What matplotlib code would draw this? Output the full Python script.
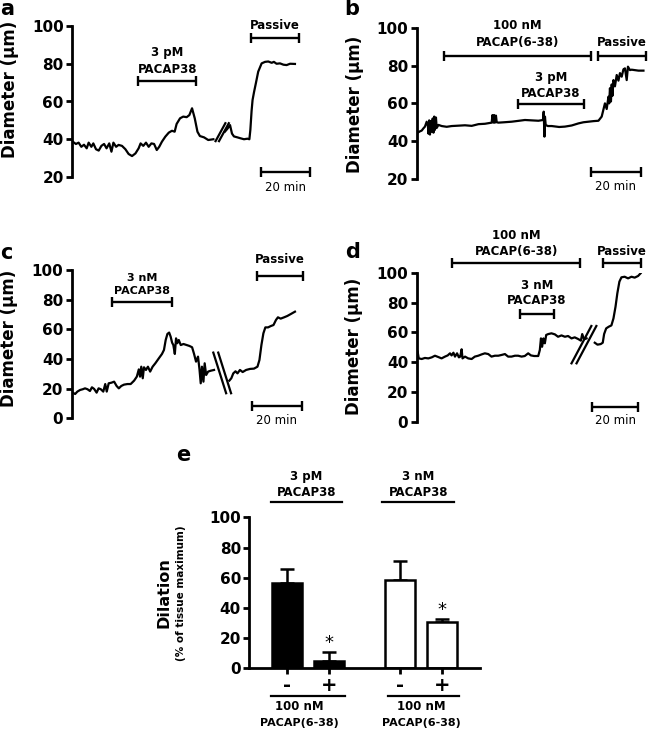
import numpy as np
import matplotlib
matplotlib.use("Agg")
from matplotlib import pyplot as plt

plt.rcParams['font.family'] = ['DejaVu Sans']
plt.rcParams['font.weight'] = 'bold'

# ---------------------------------------------------------------- data
# panel a: diameter (um) vs time (min), trace
a_t1 = [0.3, 1.6, 2.7, 3.8, 4.9, 6.0, 6.8, 7.9, 8.7, 9.8, 10.9, 12.0, 13.1, 14.1, 15.2, 16.1,
        16.9, 18.0, 19.0, 20.4, 21.8, 23.1, 24.5, 25.9, 27.2, 28.0, 29.1, 30.2, 31.3, 32.4,
        33.5, 34.6, 35.6, 36.7, 38.1, 39.5, 40.8, 41.9, 42.7, 44.1, 45.4, 46.8, 47.9, 49.0,
        50.1, 51.2, 52.2, 53.9, 55.6, 57.7]
a_v1 = [38.7, 37.5, 38.2, 36.0, 37.1, 35.2, 38.2, 36.0, 37.8, 34.7, 34.0, 36.5, 37.5, 35.2,
        37.8, 33.4, 38.2, 36.0, 37.0, 36.5, 34.7, 32.2, 31.1, 32.5, 35.2, 37.8, 36.5, 38.2,
        36.0, 37.8, 37.5, 34.3, 36.0, 38.7, 41.4, 43.5, 44.5, 44.0, 48.1, 51.1, 52.0, 51.7,
        52.8, 56.4, 51.1, 44.0, 41.7, 41.0, 39.6, 40.0]
a_t2 = [62.4, 63.4, 64.5, 65.3, 66.1, 67.5, 68.8, 70.2, 71.6, 72.4, 72.8, 73.3, 73.7, 74.3,
        75.1, 76.0, 77.4, 78.8, 80.1, 81.5, 82.4, 83.5, 84.9, 86.3, 87.6, 89.0, 91.0]
a_v2 = [44.0, 45.5, 47.5, 43.0, 41.5, 41.0, 40.5, 40.0, 40.3, 40.0, 45.0, 55.0, 60.8, 65.0,
        70.0, 75.8, 80.2, 81.0, 81.2, 80.5, 81.0, 80.0, 80.2, 79.5, 79.3, 80.0, 79.9]

# panel b
b_t = [0.4, 1.3, 2.0, 2.7, 3.3, 4.0, 4.5, 4.7, 5.0, 5.3, 5.7, 6.0, 6.4, 6.7, 7.0, 7.3, 7.7,
       8.0, 8.7, 10.0, 12.0, 14.0, 16.7, 19.3, 22.0, 24.7, 27.3, 30.0, 30.3, 30.7, 31.0,
       31.3, 31.7, 32.0, 32.7, 35.0, 38.0, 41.0, 43.3, 46.0, 48.7, 50.5, 50.8, 51.1, 51.3,
       51.6, 52.5, 54.0, 57.0, 59.3, 62.0, 64.7, 66.7, 68.7, 70.7, 72.7, 74.0, 75.3, 76.0,
       76.7, 77.0, 77.3, 77.7, 78.0, 78.3, 78.7, 79.3, 80.0, 80.7, 81.3, 82.0, 82.7, 83.3,
       84.0, 84.5, 85.3, 86.0, 88.7, 90.7]
b_v = [44.5, 45.2, 45.6, 46.8, 47.7, 50.3, 48.0, 44.0, 51.0, 43.5, 50.5, 45.0, 52.0, 44.5,
       53.0, 46.0, 52.5, 47.0, 48.6, 48.0, 47.6, 48.0, 48.2, 48.4, 48.1, 49.0, 49.2, 49.8,
       53.8, 49.8, 53.8, 49.8, 53.5, 50.0, 49.8, 50.0, 50.3, 50.8, 51.2, 51.0, 50.8, 51.2,
       55.6, 42.4, 53.0, 48.5, 48.0, 48.0, 47.5, 47.7, 48.3, 49.4, 50.0, 50.3, 50.6, 50.8,
       53.0, 60.0, 57.0, 63.5, 60.0, 68.0, 61.0, 70.0, 64.0, 72.3, 69.0, 75.0, 72.0, 76.0,
       74.1, 78.0, 78.5, 72.3, 79.4, 77.6, 77.8, 77.3, 77.3]

# panel c
c_t1 = [0.4, 1.4, 2.3, 3.4, 4.5, 5.4, 6.4, 7.4, 8.2, 9.1, 10.1, 10.9, 11.8, 12.8, 13.6, 14.2,
        15.0, 16.1, 17.2, 18.2, 19.1, 20.1, 21.2, 22.6, 23.9, 25.3, 26.4, 27.2, 27.7, 28.2,
        28.8, 29.3, 30.1, 30.9, 31.8, 32.8, 33.9, 35.3, 36.6, 37.4, 38.1, 38.8, 39.5, 40.1,
        40.7, 41.2, 41.8, 42.3, 42.8, 43.4, 44.2, 45.3, 46.6, 47.7, 48.8, 49.6, 50.4, 51.2,
        51.8, 52.3, 52.8, 53.4, 53.9, 54.5, 55.3, 56.4, 57.7]
c_v1 = [17.3, 16.4, 18.0, 19.1, 19.6, 20.2, 19.6, 18.4, 20.9, 19.8, 17.3, 20.2, 19.6, 18.0,
        23.1, 18.0, 23.6, 24.0, 24.7, 21.8, 20.2, 21.8, 22.7, 23.1, 23.1, 25.4, 28.1, 33.0,
        28.1, 34.8, 27.0, 34.4, 32.6, 34.8, 31.5, 34.8, 37.1, 40.4, 43.4, 46.1, 52.8, 56.9,
        57.8, 55.1, 51.0, 49.4, 43.4, 53.9, 50.6, 52.8, 49.4, 50.1, 49.4, 48.8, 47.9, 43.4,
        38.2, 41.6, 33.0, 23.6, 34.8, 24.7, 37.1, 29.2, 31.5, 32.1, 32.6]
c_t2 = [63.9, 64.7, 65.5, 66.4, 67.2, 68.2, 69.3, 70.7, 72.3, 73.9, 75.3, 76.1, 76.9, 77.7,
        78.5, 79.6, 80.7, 81.8, 82.8, 83.6, 84.7, 86.1, 87.4, 88.8, 90.5]
c_v2 = [25.4, 27.0, 30.3, 31.7, 30.3, 32.6, 31.2, 32.6, 33.3, 33.5, 34.8, 39.3, 49.4, 57.3,
        61.3, 61.3, 62.2, 62.9, 66.3, 68.1, 67.2, 68.1, 69.0, 70.3, 71.9]

# panel d
d_t1 = [0.4, 0.9, 2.2, 3.6, 5.1, 6.6, 8.0, 9.5, 10.9, 12.4, 13.6, 14.6, 15.3, 16.1, 16.8,
        17.7, 18.5, 19.1, 19.7, 20.1, 21.2, 22.6, 24.1, 25.5, 27.0, 28.5, 29.9, 31.4, 32.8,
        34.3, 35.8, 37.2, 38.7, 40.1, 41.6, 43.1, 44.5, 46.0, 47.4, 48.9, 50.1, 51.5, 53.3,
        54.0, 54.5, 55.0, 55.6, 56.2, 56.8, 57.7, 59.1, 60.6, 62.0, 63.5, 65.0, 66.4, 67.9,
        69.3, 70.8, 72.0, 72.6, 73.4, 74.5]
d_v1 = [47.1, 42.6, 42.2, 42.9, 42.6, 43.3, 44.4, 43.5, 42.6, 43.8, 44.6, 46.0, 44.6, 46.4,
        43.8, 46.0, 43.3, 43.8, 48.7, 42.6, 43.8, 42.6, 42.2, 43.8, 44.4, 45.3, 46.0, 45.5,
        43.8, 44.4, 44.4, 44.9, 45.5, 43.8, 43.8, 44.4, 44.4, 43.8, 44.2, 46.0, 44.6, 44.2,
        44.2, 48.2, 56.0, 50.4, 56.0, 52.7, 58.3, 58.9, 59.4, 58.7, 57.1, 58.0, 57.1, 57.6,
        56.0, 56.7, 55.6, 54.5, 58.9, 55.4, 56.0]
d_t2 = [78.1, 79.3, 80.7, 81.6, 82.2, 83.1, 84.2, 85.4, 86.3, 87.2, 88.0, 88.9, 89.8, 91.2,
        92.7, 94.2, 95.6, 97.1, 98.2]
d_v2 = [53.1, 51.8, 52.2, 53.1, 58.9, 62.7, 63.8, 64.7, 69.4, 77.2, 86.2, 94.0, 96.9, 97.3,
        96.2, 97.3, 96.7, 97.8, 99.6]

# panel e: dilation (% of tissue maximum)
e_mean = [56.3, 4.8, 58.5, 30.7]
e_sem = [9.3, 6.0, 12.8, 2.2]
e_sign = ["-", "+", "-", "+"]
e_star = [False, True, False, True]

yt_ab = [20, 40, 60, 80, 100]
yt_cd = [0, 20, 40, 60, 80, 100]
yt_e = [0, 20, 40, 60, 80, 100]

# ---------------------------------------------------------------- layout helpers
W, H = 650, 731
fig = plt.figure(figsize=(W/100, H/100), dpi=100)


def box(x0, y_top, width, y_bot):
    # pixel box -> figure fraction
    return [x0/W, 1 - y_bot/H, width/W, (y_bot - y_top)/H]


def trace_axes(rect, xmax, ylim, yt):
    ax = fig.add_axes(rect)
    ax.set_xlim(0, xmax)
    ax.set_ylim(*ylim)
    for s in ["top", "right", "bottom"]:
        ax.spines[s].set_visible(False)
    ax.spines["left"].set_linewidth(2.0)
    ax.set_xticks([])
    ax.set_yticks(yt)
    ax.tick_params(axis="y", length=4, width=2.0, pad=2, labelsize=11)
    for lab in ax.get_yticklabels():
        lab.set_fontweight("bold")
    ax.patch.set_alpha(0)
    return ax


def hbar(ax, x0, x1, y, ms=7):
    ax.plot([x0, x1], [y, y], color="k", lw=1.7, marker="|", ms=ms, mew=1.7,
            clip_on=False, solid_capstyle="butt")


def txt(ax, x, y, s, size=8.5, weight="bold"):
    ax.text(x, y, s, ha="center", va="center", fontsize=size, fontweight=weight,
            clip_on=False)


def slash(ax, xs, ys, dx):
    for k in (0, dx):
        ax.plot([xs[0] + k, xs[1] + k], ys, color="k", lw=1.6, clip_on=False)


trace_kw = dict(color="k", lw=1.6, solid_joinstyle="round")

# ---------------------------------------------------------------- panel a
ax = trace_axes(box(72, 26, 240, 177), 240/2.45, (20, 100), yt_ab)
ax.plot(a_t1, a_v1, **trace_kw)
ax.plot(a_t2, a_v2, **trace_kw)
slash(ax, [58.6, 62.6], [39.0, 48.5], 1.4)
hbar(ax, 27.1, 50.6, 71)
txt(ax, 38.9, 85.7, "3 pM")
txt(ax, 38.9, 76.7, "PACAP38")
hbar(ax, 72.9, 92.8, 93.7)
txt(ax, 82.8, 100.5, "Passive")
hbar(ax, 77.1, 97.1, 22.8)
txt(ax, 87.1, 14.2, "20 min", weight="normal")

# ---------------------------------------------------------------- panel b
ax = trace_axes(box(416.7, 27.7, 230, 179), 230/2.5, (20, 100), yt_ab)
ax.plot(b_t, b_v, **trace_kw)
hbar(ax, 10.9, 69.6, 85.1)
txt(ax, 40.3, 101.4, "100 nM")
txt(ax, 40.3, 92.1, "PACAP(6-38)")
hbar(ax, 72.4, 91.6, 85.1)
txt(ax, 82.0, 92.1, "Passive")
hbar(ax, 40.4, 67.1, 59.6)
txt(ax, 53.7, 73.9, "3 pM")
txt(ax, 53.7, 65.4, "PACAP38")
hbar(ax, 69.6, 89.6, 23.6)
txt(ax, 79.6, 15.9, "20 min", weight="normal")

# ---------------------------------------------------------------- panel c
ax = trace_axes(box(71.7, 270, 240, 418.3), 240/2.467, (0, 100), yt_cd)
ax.plot(c_t1, c_v1, **trace_kw)
ax.plot(c_t2, c_v2, **trace_kw)
slash(ax, [57.4, 62.6], [44.3, 16.9], 2.0)
hbar(ax, 16.2, 40.8, 78.7)
txt(ax, 28.5, 94.5, "3 nM", size=8)
txt(ax, 28.5, 86.0, "PACAP38", size=8)
hbar(ax, 75.0, 93.6, 96.2)
txt(ax, 84.3, 107.4, "Passive")
hbar(ax, 73.2, 93.2, 8.3)
txt(ax, 83.2, -1.8, "20 min", weight="normal")

# ---------------------------------------------------------------- panel d
ax = trace_axes(box(416.7, 272.7, 230, 422), 230/2.28, (0, 100), yt_cd)
ax.plot(d_t1, d_v1, **trace_kw)
ax.plot(d_t2, d_v2, **trace_kw)
slash(ax, [67.9, 76.6], [39.3, 64.3], 2.2)
hbar(ax, 15.3, 71.8, 106.7)
txt(ax, 43.6, 125.0, "100 nM")
txt(ax, 43.6, 114.0, "PACAP(6-38)")
hbar(ax, 81.8, 98.5, 106.7)
txt(ax, 90.1, 114.0, "Passive")
hbar(ax, 45.3, 60.3, 72.1)
txt(ax, 52.8, 91.7, "3 nM")
txt(ax, 52.8, 81.3, "PACAP38")
hbar(ax, 77.1, 97.1, 10.3)
txt(ax, 87.1, 0.7, "20 min", weight="normal")

# ---------------------------------------------------------------- panel e
ax = fig.add_axes(box(249.3, 517.3, 230.7, 668.3))
pos = [0, 1, 2.69, 3.69]
ax.set_xlim(-0.89, 4.6)
ax.set_ylim(0, 100)
for s in ["top", "right"]:
    ax.spines[s].set_visible(False)
ax.spines["left"].set_linewidth(2.0)
ax.spines["bottom"].set_linewidth(2.0)
ax.spines["left"].set_bounds(0, 100)
ax.set_yticks(yt_e)
ax.set_xticks(pos)
ax.set_xticklabels([""] * 4)
ax.tick_params(axis="y", length=4, width=2.0, pad=2, labelsize=11)
ax.tick_params(axis="x", length=4, width=2.0)
for lab in ax.get_yticklabels():
    lab.set_fontweight("bold")
ax.patch.set_alpha(0)

cols = ["k", "k", "w", "w"]
ax.bar(pos, e_mean, width=0.714, color=cols, edgecolor="k", linewidth=1.8, zorder=2)
ax.errorbar(pos, e_mean, yerr=[[0] * 4, e_sem], fmt="none", ecolor="k", elinewidth=1.8,
            capsize=5, capthick=1.8, zorder=1)
for p, m, s, st in zip(pos, e_mean, e_sem, e_star):
    if st:
        ax.text(p, m + s + 6, "*", ha="center", va="center", fontsize=13, fontweight="normal")

for p, sg in zip(pos, e_sign):
    ax.text(p, -11.5, sg, ha="center", va="center", fontsize=14, fontweight="bold",
            clip_on=False)

for x0, x1, xc, lab in [(-0.374, 1.317, 0.47, "3 pM"), (2.276, 3.98, 3.13, "3 nM")]:
    ax.plot([x0, x1], [110, 110], color="k", lw=1.6, clip_on=False)
    ax.text(xc, 126.9, lab, ha="center", va="center", fontsize=8.5, fontweight="bold")
    ax.text(xc, 116.5, "PACAP38", ha="center", va="center", fontsize=8.5, fontweight="bold")

for x0, x1, xc in [(-0.374, 1.39, 0.31), (2.4, 4.09, 3.21)]:
    ax.plot([x0, x1], [-18.3, -18.3], color="k", lw=1.6, clip_on=False)
    ax.text(xc, -25.4, "100 nM", ha="center", va="center", fontsize=8.5, fontweight="bold")
    ax.text(xc, -36.0, "PACAP(6-38)", ha="center", va="center", fontsize=8,
            fontweight="bold")

# ---------------------------------------------------------------- labels
def ftxt(px, py, s, size, rot=0, weight="bold"):
    fig.text(px/W, 1 - py/H, s, fontsize=size, fontweight=weight, rotation=rot,
             ha="center", va="center")


ftxt(10.5, 89, "Diameter (µm)", 12, rot=90)
ftxt(355, 104, "Diameter (µm)", 12, rot=90)
ftxt(9, 338, "Diameter (µm)", 12, rot=90)
ftxt(354, 346, "Diameter (µm)", 12, rot=90)
ftxt(164, 593, "Dilation", 11.5, rot=90)
ftxt(181, 593, "(% of tissue maximum)", 7.5, rot=90)

ftxt(7, 9, "a", 15)
ftxt(352, 9, "b", 15)
ftxt(6, 253, "c", 15)
ftxt(353, 252, "d", 15)
ftxt(183, 455, "e", 15)

plt.savefig("out.png", dpi=100)
